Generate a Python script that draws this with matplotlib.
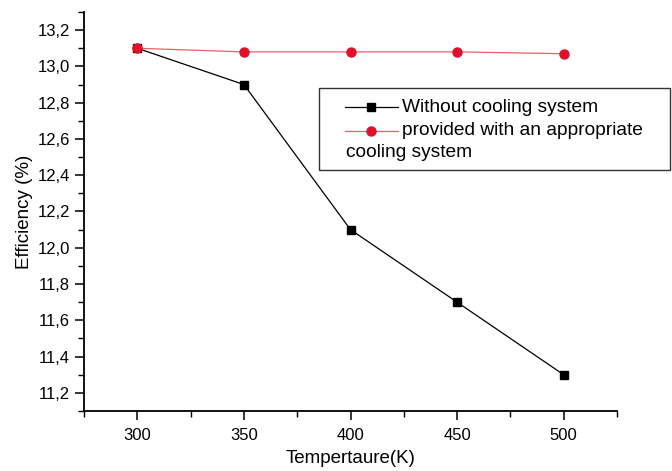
import matplotlib.pyplot as plt
from matplotlib.ticker import MultipleLocator, FuncFormatter
from matplotlib.lines import Line2D
from matplotlib.patches import Rectangle

plt.rcParams['font.family'] = ['Liberation Sans', 'DejaVu Sans']

temps = [300, 350, 400, 450, 500]
eff_no_cooling = [13.1, 12.9, 12.1, 11.7, 11.3]
eff_cooling = [13.1, 13.08, 13.08, 13.08, 13.07]

W, H = 672, 471
fig = plt.figure(figsize=(W / 100, H / 100), dpi=100)
ax = fig.add_axes([84 / W, 1 - 411 / H, (617 - 84) / W, (411 - 12) / H])

ax.plot(temps, eff_no_cooling, color='black', lw=0.9, marker='s', ms=6, mfc='black', mec='black')
ax.plot(temps, eff_cooling, color='#e8606e', lw=0.9, marker='o', ms=6.5, mfc='#e0102a', mec='#e0102a')

ax.set_xlim(275, 525)
ax.set_ylim(11.1, 13.3)
ax.xaxis.set_major_locator(MultipleLocator(50))
ax.xaxis.set_minor_locator(MultipleLocator(25))
ax.yaxis.set_major_locator(MultipleLocator(0.2))
ax.yaxis.set_minor_locator(MultipleLocator(0.1))
ax.yaxis.set_major_formatter(FuncFormatter(lambda v, p: f"{v:.1f}".replace('.', ',')))

for s in ['top', 'right']:
    ax.spines[s].set_visible(False)
for s in ['left', 'bottom']:
    ax.spines[s].set_linewidth(1.3)
ax.tick_params(which='major', direction='out', length=6.5, width=1.1, labelsize=12)
ax.tick_params(which='minor', direction='out', length=4, width=1.0)
ax.tick_params(axis='x', pad=6)

ax.set_xlabel('Tempertaure(K)', fontsize=13.5, labelpad=5)
ax.set_ylabel('Efficiency (%)', fontsize=13.5, labelpad=3)

# legend box drawn manually (label wraps under the handle)
def fx(px):
    return px / W

def fy(py):
    return 1 - py / H

tf = fig.transFigure
fig.add_artist(Rectangle((fx(319), fy(170)), fx(670) - fx(319), fy(88) - fy(170),
                         transform=tf, fill=False, ec='#333333', lw=1.0))
fig.add_artist(Line2D([fx(345), fx(398)], [fy(107), fy(107)], transform=tf,
                      color='black', lw=0.9))
fig.add_artist(Line2D([fx(371)], [fy(107)], transform=tf, marker='s', ms=6,
                      color='black', ls='none'))
fig.add_artist(Line2D([fx(345), fx(398)], [fy(131), fy(131)], transform=tf,
                      color='#e8606e', lw=0.9))
fig.add_artist(Line2D([fx(371)], [fy(131)], transform=tf, marker='o', ms=6.5,
                      color='#e0102a', ls='none'))
fig.text(fx(402), fy(107), 'Without cooling system', fontsize=13.8, va='center', ha='left')
fig.text(fx(402), fy(131), 'provided with an appropriate', fontsize=13.8, va='center', ha='left')
fig.text(fx(346), fy(153), 'cooling system', fontsize=13.8, va='center', ha='left')

fig.savefig('out.png', dpi=100)
